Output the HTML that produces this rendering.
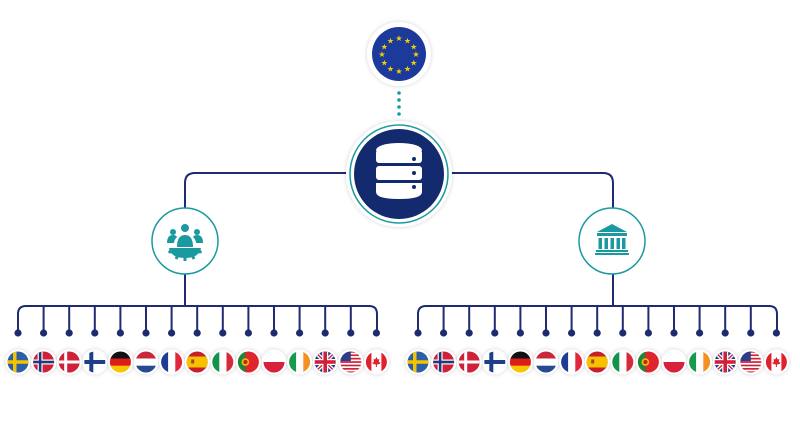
<!DOCTYPE html>
<html><head><meta charset="utf-8"><style>html,body{margin:0;padding:0;background:#fff}svg{display:block}</style></head>
<body>
<svg width="800" height="439" viewBox="0 0 800 439" xmlns="http://www.w3.org/2000/svg">
<defs>
<filter id="sh" x="-30%" y="-30%" width="160%" height="160%"><feDropShadow dx="0" dy="0" stdDeviation="2" flood-color="#000" flood-opacity="0.18"/></filter>
<clipPath id="cc"><circle cx="0" cy="0" r="10.5"/></clipPath>
<symbol id="SE" viewBox="-11 -11 22 22"><g clip-path="url(#cc)"><rect x="-11" y="-11" width="22" height="22" fill="#2b5fa8"/><rect x="-5" y="-11" width="3.5" height="22" fill="#f5c400"/><rect x="-11" y="-1.75" width="22" height="3.5" fill="#f5c400"/></g></symbol>
<symbol id="NO" viewBox="-11 -11 22 22"><g clip-path="url(#cc)"><rect x="-11" y="-11" width="22" height="22" fill="#d0213a"/><rect x="-6" y="-11" width="5" height="22" fill="#fff"/><rect x="-11" y="-2.5" width="22" height="5" fill="#fff"/><rect x="-4.8" y="-11" width="2.6" height="22" fill="#1f3a7a"/><rect x="-11" y="-1.3" width="22" height="2.6" fill="#1f3a7a"/></g></symbol>
<symbol id="DK" viewBox="-11 -11 22 22"><g clip-path="url(#cc)"><rect x="-11" y="-11" width="22" height="22" fill="#d0213a"/><rect x="-5" y="-11" width="3" height="22" fill="#fff"/><rect x="-11" y="-1.5" width="22" height="3" fill="#fff"/></g></symbol>
<symbol id="FI" viewBox="-11 -11 22 22"><g clip-path="url(#cc)"><rect x="-11" y="-11" width="22" height="22" fill="#fff"/><rect x="-5.5" y="-11" width="4" height="22" fill="#1d3f88"/><rect x="-11" y="-2" width="22" height="4" fill="#1d3f88"/></g></symbol>
<symbol id="DE" viewBox="-11 -11 22 22"><g clip-path="url(#cc)"><rect x="-11" y="-11" width="22" height="8" fill="#111"/><rect x="-11" y="-3.5" width="22" height="7.5" fill="#dd1c1c"/><rect x="-11" y="3.7" width="22" height="8" fill="#f7c600"/></g></symbol>
<symbol id="NL" viewBox="-11 -11 22 22"><g clip-path="url(#cc)"><rect x="-11" y="-11" width="22" height="8" fill="#c8283a"/><rect x="-11" y="-3.5" width="22" height="7.5" fill="#fff"/><rect x="-11" y="3.7" width="22" height="8" fill="#284a92"/></g></symbol>
<symbol id="FR" viewBox="-11 -11 22 22"><g clip-path="url(#cc)"><rect x="-11" y="-11" width="8" height="22" fill="#1d3d94"/><rect x="-3.5" y="-11" width="7.5" height="22" fill="#fff"/><rect x="3.7" y="-11" width="8" height="22" fill="#e0283a"/></g></symbol>
<symbol id="ES" viewBox="-11 -11 22 22"><g clip-path="url(#cc)"><rect x="-11" y="-11" width="22" height="22" fill="#c8202a"/><rect x="-11" y="-5.5" width="22" height="11" fill="#f6c200"/><rect x="-6" y="-2.5" width="3" height="4" fill="#b04020"/></g></symbol>
<symbol id="IT" viewBox="-11 -11 22 22"><g clip-path="url(#cc)"><rect x="-11" y="-11" width="8" height="22" fill="#129448"/><rect x="-3.5" y="-11" width="7.5" height="22" fill="#fff"/><rect x="3.7" y="-11" width="8" height="22" fill="#d52b38"/></g></symbol>
<symbol id="PT" viewBox="-11 -11 22 22"><g clip-path="url(#cc)"><rect x="-11" y="-11" width="22" height="22" fill="#e0262c"/><rect x="-11" y="-11" width="8" height="22" fill="#1a8a3a"/><circle cx="-3" cy="0" r="3.8" fill="#f6c200"/><circle cx="-3" cy="0" r="2.2" fill="#d02020"/></g></symbol>
<symbol id="PL" viewBox="-11 -11 22 22"><g clip-path="url(#cc)"><rect x="-11" y="-11" width="22" height="11" fill="#fff"/><rect x="-11" y="0" width="22" height="11" fill="#d91f3c"/></g></symbol>
<symbol id="IE" viewBox="-11 -11 22 22"><g clip-path="url(#cc)"><rect x="-11" y="-11" width="8" height="22" fill="#189a4c"/><rect x="-3.5" y="-11" width="7.5" height="22" fill="#fff"/><rect x="3.7" y="-11" width="8" height="22" fill="#f59025"/></g></symbol>
<symbol id="UK" viewBox="-11 -11 22 22"><g clip-path="url(#cc)"><rect x="-11" y="-11" width="22" height="22" fill="#233f8c"/><path d="M-11-11L11 11M11-11L-11 11" stroke="#fff" stroke-width="4"/><path d="M-11-11L11 11M11-11L-11 11" stroke="#d0213a" stroke-width="1.4"/><rect x="-3" y="-11" width="6" height="22" fill="#fff"/><rect x="-11" y="-3" width="22" height="6" fill="#fff"/><rect x="-1.8" y="-11" width="3.6" height="22" fill="#d0213a"/><rect x="-11" y="-1.8" width="22" height="3.6" fill="#d0213a"/></g></symbol>
<symbol id="US" viewBox="-11 -11 22 22"><g clip-path="url(#cc)"><rect x="-11" y="-11" width="22" height="22" fill="#fff"/><g fill="#d0213a"><rect x="-11" y="-11" width="22" height="1.7"/><rect x="-11" y="-7.6" width="22" height="1.7"/><rect x="-11" y="-4.2" width="22" height="1.7"/><rect x="-11" y="-0.8" width="22" height="1.7"/><rect x="-11" y="2.6" width="22" height="1.7"/><rect x="-11" y="6" width="22" height="1.7"/><rect x="-11" y="9.4" width="22" height="1.7"/></g><rect x="-11" y="-11" width="11" height="10.2" fill="#2a3f86"/></g></symbol>
<symbol id="CA" viewBox="-11 -11 22 22"><g clip-path="url(#cc)"><rect x="-11" y="-11" width="22" height="22" fill="#fff"/><rect x="-11" y="-11" width="6" height="22" fill="#e0202a"/><rect x="5" y="-11" width="6" height="22" fill="#e0202a"/><path d="M0-5L1.3-2.5L3-3L2.3 0.5L4 0L3.5 2L0.5 2.5L0.5 5L-0.5 5L-0.5 2.5L-3.5 2L-4 0L-2.3 0.5L-3-3L-1.3-2.5Z" fill="#e0202a"/></g></symbol>
<g id="row">
<path d="M18 333V314q0-8 8-8H369q8 0 8 8V333" fill="none" stroke="#1e2b6e" stroke-width="2"/>
<path d="M43.6 306V333M69.2 306V333M94.8 306V333M120.4 306V333M146 306V333M171.6 306V333M197.2 306V333M222.8 306V333M248.4 306V333M274 306V333M299.6 306V333M325.2 306V333M350.8 306V333" stroke="#1e2b6e" stroke-width="2"/>
<g fill="#1e2b6e"><circle cx="18" cy="333" r="3.6"/><circle cx="43.6" cy="333" r="3.6"/><circle cx="69.2" cy="333" r="3.6"/><circle cx="94.8" cy="333" r="3.6"/><circle cx="120.4" cy="333" r="3.6"/><circle cx="146" cy="333" r="3.6"/><circle cx="171.6" cy="333" r="3.6"/><circle cx="197.2" cy="333" r="3.6"/><circle cx="222.8" cy="333" r="3.6"/><circle cx="248.4" cy="333" r="3.6"/><circle cx="274" cy="333" r="3.6"/><circle cx="299.6" cy="333" r="3.6"/><circle cx="325.2" cy="333" r="3.6"/><circle cx="350.8" cy="333" r="3.6"/><circle cx="376.4" cy="333" r="3.6"/></g>
<g fill="#fff" filter="url(#sh)"><circle cx="18" cy="362" r="12.5"/><circle cx="43.6" cy="362" r="12.5"/><circle cx="69.2" cy="362" r="12.5"/><circle cx="94.8" cy="362" r="12.5"/><circle cx="120.4" cy="362" r="12.5"/><circle cx="146" cy="362" r="12.5"/><circle cx="171.6" cy="362" r="12.5"/><circle cx="197.2" cy="362" r="12.5"/><circle cx="222.8" cy="362" r="12.5"/><circle cx="248.4" cy="362" r="12.5"/><circle cx="274" cy="362" r="12.5"/><circle cx="299.6" cy="362" r="12.5"/><circle cx="325.2" cy="362" r="12.5"/><circle cx="350.8" cy="362" r="12.5"/><circle cx="376.4" cy="362" r="12.5"/></g>
<use href="#SE" x="7" y="351" width="22" height="22"/>
<use href="#NO" x="32.6" y="351" width="22" height="22"/>
<use href="#DK" x="58.2" y="351" width="22" height="22"/>
<use href="#FI" x="83.8" y="351" width="22" height="22"/>
<use href="#DE" x="109.4" y="351" width="22" height="22"/>
<use href="#NL" x="135" y="351" width="22" height="22"/>
<use href="#FR" x="160.6" y="351" width="22" height="22"/>
<use href="#ES" x="186.2" y="351" width="22" height="22"/>
<use href="#IT" x="211.8" y="351" width="22" height="22"/>
<use href="#PT" x="237.4" y="351" width="22" height="22"/>
<use href="#PL" x="263" y="351" width="22" height="22"/>
<use href="#IE" x="288.6" y="351" width="22" height="22"/>
<use href="#UK" x="314.2" y="351" width="22" height="22"/>
<use href="#US" x="339.8" y="351" width="22" height="22"/>
<use href="#CA" x="365.4" y="351" width="22" height="22"/>
</g>
</defs>
<rect width="800" height="439" fill="#fff"/>
<use href="#row"/>
<use href="#row" x="400"/>
<path d="M185 210V183q0-10 10-10H603q10 0 10 10V210" fill="none" stroke="#1e2b6e" stroke-width="2"/>
<path d="M185 273V306M613 273V306" stroke="#1e2b6e" stroke-width="2"/>
<g fill="#1a9aa0"><circle cx="399" cy="93" r="1.8"/><circle cx="399" cy="100" r="1.8"/><circle cx="399" cy="107" r="1.8"/><circle cx="399" cy="114" r="1.8"/></g>
<circle cx="399" cy="54" r="32" fill="#fff" filter="url(#sh)"/>
<circle cx="399" cy="54" r="27" fill="#1c3a9c"/>
<g fill="#f5d000" font-family="DejaVu Sans, sans-serif" font-size="8" text-anchor="middle">
<text x="399" y="41">★</text><text x="407.5" y="43.3">★</text><text x="413.7" y="49.5">★</text><text x="416" y="57">★</text><text x="413.7" y="65.5">★</text><text x="407.5" y="71.7">★</text><text x="399" y="74">★</text><text x="390.5" y="71.7">★</text><text x="384.3" y="65.5">★</text><text x="382" y="57">★</text><text x="384.3" y="49.5">★</text><text x="390.5" y="43.3">★</text>
</g>
<circle cx="399" cy="174" r="53" fill="#fff" filter="url(#sh)"/>
<circle cx="399" cy="174" r="49" fill="#fff" stroke="#1a9aa0" stroke-width="1.5"/>
<circle cx="399" cy="174" r="45" fill="#132a6e"/>
<g fill="#fff">
<ellipse cx="399" cy="150" rx="23" ry="7"/>
<rect x="376" y="150" width="46" height="13" rx="3"/>
<rect x="376" y="166" width="46" height="14" rx="3"/>
<path d="M376 183h46v9q0 7-23 7t-23-7z"/>
</g>
<g fill="#132a6e"><circle cx="414" cy="159" r="2"/><circle cx="414" cy="173" r="2"/><circle cx="414" cy="187" r="2"/></g>
<circle cx="185" cy="241" r="33" fill="#fff" stroke="#1a9aa0" stroke-width="1.5"/>
<g fill="#1a9aa0">
<circle cx="185" cy="228" r="4"/><circle cx="173" cy="232" r="3"/><circle cx="197" cy="232" r="3"/>
<path d="M177 247q0-12 8-12t8 12z"/>
<path d="M167 243q0-8 6-8 3 0 4 2-3 3-3 6z"/><path d="M203 243q0-8-6-8-3 0-4 2 3 3 3 6z"/>
<path d="M169 248h32q-2 10-16 10t-16-10z"/>
<g stroke="#1a9aa0" stroke-width="3"><path d="M172 249l-3 4M198 249l3 4M178 255l-2 4M192 255l2 4M185 257v4"/></g>
</g>
<circle cx="612" cy="241" r="33" fill="#fff" stroke="#1a9aa0" stroke-width="1.5"/>
<g fill="#1a9aa0">
<path d="M597 232l15-8 15 8z"/>
<rect x="597" y="233" width="30" height="3"/>
<rect x="598.5" y="238" width="3.5" height="11"/><rect x="604.5" y="238" width="3.5" height="11"/><rect x="610.5" y="238" width="3.5" height="11"/><rect x="616.5" y="238" width="3.5" height="11"/><rect x="622" y="238" width="3.5" height="11"/>
<rect x="596" y="250" width="32" height="2"/><rect x="595" y="253" width="34" height="2"/>
</g>
</svg>
</body></html>
